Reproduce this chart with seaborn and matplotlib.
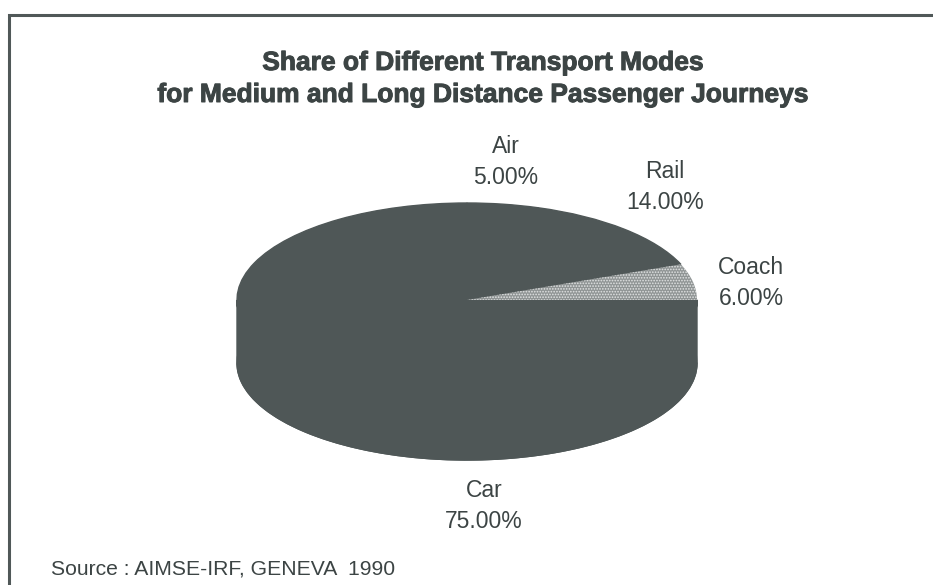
import numpy as np
import matplotlib
matplotlib.use("Agg")
import matplotlib.pyplot as plt
import matplotlib.patheffects as pe
from matplotlib.patches import Polygon, Rectangle
import seaborn as sns

# Shares of passenger journeys by mode (percent), counter-clockwise from 3 o'clock
modes = ["Coach", "Rail", "Air", "Car"]
shares = [6.0, 14.0, 5.0, 75.0]

title_lines = ["Share of Different Transport Modes",
               "for Medium and Long Distance Passenger Journeys"]
source_note = "Source : AIMSE-IRF, GENEVA  1990"

sns.set_theme(style="white")
plt.rcParams["font.family"] = ["Liberation Sans", "DejaVu Sans"]
plt.rcParams["hatch.linewidth"] = 0.8

SLATE = "#4f5757"
TEXT = "#3c4444"
fills = {"Coach": "#8f9494", "Rail": SLATE, "Air": SLATE, "Car": SLATE}
hatches = {"Coach": "......"}

W, H = 933, 585
fig = plt.figure(figsize=(W / 100, H / 100), dpi=100)
ax = fig.add_axes([0, 0, 1, 1])

# pie geometry in pixels: centre, horizontal / vertical semi-axes, rim depth
cx, cy, rx, ry, depth_px = 467, 300, 230, 97, 63
depth = depth_px / ry

colors = [fills[m] for m in modes]

# base layer (bottom face of the disc)
base, _ = ax.pie(shares, startangle=0, counterclock=True, colors=colors,
                 center=(0, -depth), radius=1, frame=True)
for w, m in zip(base, modes):
    w.set_edgecolor(fills[m])
    w.set_linewidth(1.0)

# rim: the visible front part of each wedge (angles 180..360)
edges = np.concatenate([[0], np.cumsum(shares)]) / sum(shares) * 360
for m, a0, a1 in zip(modes, edges[:-1], edges[1:]):
    lo, hi = max(a0, 180), min(a1, 360)
    if hi <= lo:
        continue
    t = np.radians(np.linspace(lo, hi, 160))
    xs, ys = np.cos(t), np.sin(t)
    pts = np.column_stack([np.concatenate([xs, xs[::-1]]),
                           np.concatenate([ys, ys[::-1] - depth])])
    ax.add_patch(Polygon(pts, closed=True, facecolor=fills[m],
                         edgecolor=fills[m], linewidth=1.0, zorder=1.5))

# top face
top, _ = ax.pie(shares, startangle=0, counterclock=True, colors=colors,
                center=(0, 0), radius=1, frame=True)
for w, m in zip(top, modes):
    w.set_zorder(2)
    if m in hatches:
        w.set_zorder(2.1)
        w.set_hatch(hatches[m])
        w.set_edgecolor("#e2e4e4")
        w.set_linewidth(0)
    else:
        w.set_edgecolor(fills[m])
        w.set_linewidth(1.0)

ax.set_aspect("auto")
ax.set_xlim(-cx / rx, (W - cx) / rx)
ax.set_ylim(-(H - cy) / ry, cy / ry)
ax.set_axis_off()

# slice labels (name + share)
label_pos = {"Air": (506, 162), "Rail": (665, 187),
             "Coach": (751, 283), "Car": (484, 506)}
for m, v in zip(modes, shares):
    px, py = label_pos[m]
    ax.text((px - cx) / rx, (cy - py) / ry, f"{m}\n{v:.2f}%",
            ha="center", va="center", multialignment="center",
            fontsize=16.5, color=TEXT, linespacing=1.4, zorder=3)

# title (slightly thickened strokes) and source
heavy = [pe.withStroke(linewidth=0.7, foreground=TEXT)]
for line, y in zip(title_lines, (63, 95)):
    fig.text(483 / W, 1 - y / H, line, ha="center", va="center",
             fontsize=19, fontweight="bold", color=TEXT, path_effects=heavy)
fig.text(51 / W, 1 - 569 / H, source_note, ha="left", va="center",
         fontsize=15.2, color=TEXT)

# open frame: top and left rules
fig.add_artist(Rectangle((9 / W, -0.1), 1.2, 1 - 15 / H + 0.1,
                         transform=fig.transFigure, fill=False,
                         edgecolor="#505858", linewidth=2.2))

fig.savefig("out.png", dpi=100, facecolor="white")
